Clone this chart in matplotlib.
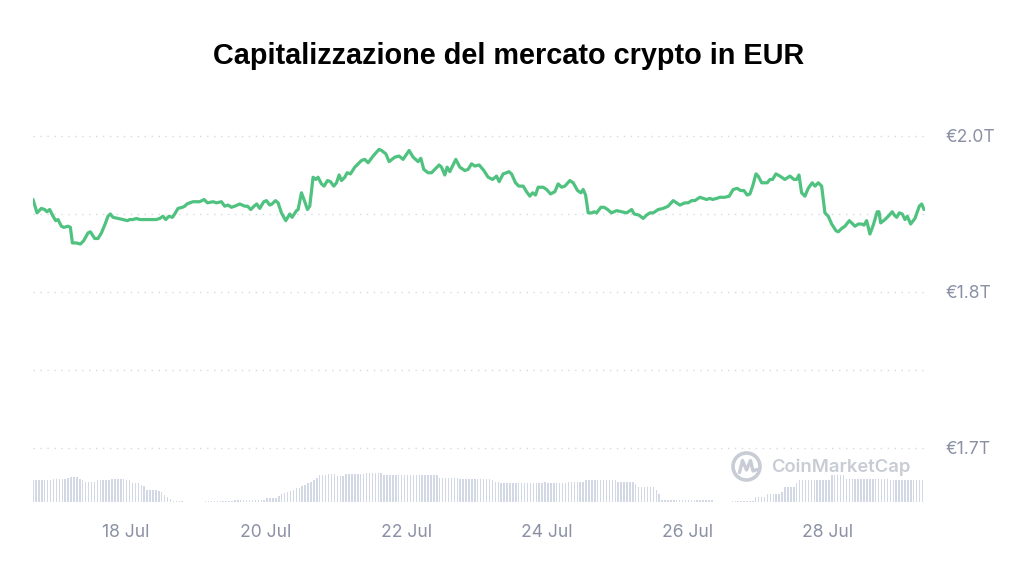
import matplotlib
matplotlib.use('Agg')
import matplotlib.pyplot as plt
from matplotlib.patches import Circle
import numpy as np

# market cap, day of July (fractional) and value in trillions EUR
price_day = [
    16.687, 16.744, 16.806, 16.853, 16.886, 16.925, 16.972, 17.010, 17.043, 17.091,
    17.128, 17.185, 17.219, 17.248, 17.305, 17.362, 17.409, 17.470, 17.504, 17.566,
    17.613, 17.661, 17.708, 17.755, 17.789, 17.826, 17.897, 17.969, 18.031, 18.064,
    18.111, 18.160, 18.207, 18.302, 18.373, 18.444, 18.491, 18.538, 18.577, 18.624,
    18.672, 18.705, 18.752, 18.815, 18.848, 18.880, 18.919, 18.966, 19.061, 19.123,
    19.171, 19.251, 19.299, 19.370, 19.417, 19.464, 19.513, 19.560, 19.631, 19.702,
    19.741, 19.788, 19.835, 19.873, 19.916, 19.973, 20.011, 20.058, 20.091, 20.140,
    20.177, 20.225, 20.286, 20.343, 20.376, 20.439, 20.462, 20.510, 20.557, 20.595,
    20.628, 20.675, 20.714, 20.746, 20.795, 20.832, 20.880, 20.923, 20.970, 21.009,
    21.046, 21.080, 21.127, 21.160, 21.208, 21.269, 21.365, 21.412, 21.459, 21.530,
    21.615, 21.650, 21.711, 21.758, 21.839, 21.900, 21.957, 22.043, 22.100, 22.171,
    22.209, 22.252, 22.313, 22.362, 22.409, 22.470, 22.504, 22.551, 22.584, 22.622,
    22.708, 22.765, 22.836, 22.883, 22.932, 22.979, 23.040, 23.107, 23.168, 23.231,
    23.288, 23.325, 23.382, 23.430, 23.463, 23.501, 23.558, 23.605, 23.667, 23.715,
    23.762, 23.801, 23.843, 23.880, 23.952, 24.000, 24.057, 24.118, 24.165, 24.214,
    24.261, 24.332, 24.379, 24.442, 24.489, 24.521, 24.556, 24.593, 24.650, 24.678,
    24.712, 24.774, 24.821, 24.869, 24.926, 24.997, 25.068, 25.140, 25.211, 25.248,
    25.315, 25.376, 25.424, 25.472, 25.519, 25.590, 25.661, 25.732, 25.803, 25.852,
    25.899, 25.970, 26.017, 26.066, 26.112, 26.184, 26.231, 26.279, 26.326, 26.365,
    26.422, 26.469, 26.540, 26.601, 26.658, 26.715, 26.764, 26.811, 26.857, 26.896,
    26.935, 26.982, 27.014, 27.063, 27.110, 27.142, 27.181, 27.219, 27.266, 27.323,
    27.394, 27.466, 27.523, 27.561, 27.594, 27.632, 27.679, 27.726, 27.783, 27.822,
    27.869, 27.917, 27.964, 28.011, 28.060, 28.121, 28.154, 28.202, 28.249, 28.311,
    28.345, 28.392, 28.439, 28.487, 28.520, 28.558, 28.605, 28.652, 28.709, 28.733,
    28.758, 28.819, 28.866, 28.923, 28.951, 28.986, 29.023, 29.065, 29.104, 29.137,
    29.185, 29.246, 29.308, 29.342, 29.375,
]
price_cap = [
    1.923, 1.911, 1.915, 1.914, 1.912, 1.914, 1.908, 1.904, 1.905, 1.899,
    1.898, 1.899, 1.898, 1.884, 1.884, 1.883, 1.886, 1.893, 1.894, 1.888,
    1.888, 1.893, 1.900, 1.908, 1.910, 1.907, 1.906, 1.905, 1.904, 1.905,
    1.905, 1.906, 1.905, 1.905, 1.905, 1.905, 1.906, 1.908, 1.905, 1.908,
    1.907, 1.910, 1.915, 1.916, 1.917, 1.919, 1.920, 1.921, 1.921, 1.923,
    1.920, 1.921, 1.920, 1.921, 1.917, 1.918, 1.916, 1.917, 1.919, 1.917,
    1.917, 1.914, 1.917, 1.919, 1.915, 1.921, 1.922, 1.918, 1.919, 1.922,
    1.920, 1.911, 1.904, 1.910, 1.907, 1.913, 1.914, 1.929, 1.921, 1.914,
    1.917, 1.943, 1.941, 1.943, 1.937, 1.935, 1.940, 1.939, 1.935, 1.938,
    1.945, 1.940, 1.943, 1.947, 1.946, 1.952, 1.958, 1.959, 1.956, 1.962,
    1.968, 1.967, 1.964, 1.957, 1.961, 1.962, 1.959, 1.967, 1.961, 1.957,
    1.960, 1.950, 1.947, 1.947, 1.950, 1.954, 1.952, 1.945, 1.952, 1.948,
    1.959, 1.952, 1.949, 1.950, 1.955, 1.953, 1.954, 1.949, 1.943, 1.941,
    1.944, 1.939, 1.946, 1.947, 1.948, 1.946, 1.938, 1.935, 1.935, 1.930,
    1.926, 1.929, 1.927, 1.934, 1.934, 1.932, 1.928, 1.930, 1.937, 1.934,
    1.935, 1.940, 1.938, 1.931, 1.929, 1.932, 1.927, 1.911, 1.911, 1.912,
    1.911, 1.916, 1.916, 1.914, 1.911, 1.913, 1.912, 1.911, 1.914, 1.910,
    1.909, 1.906, 1.909, 1.911, 1.911, 1.914, 1.915, 1.917, 1.922, 1.920,
    1.918, 1.920, 1.920, 1.922, 1.922, 1.925, 1.924, 1.923, 1.924, 1.923,
    1.924, 1.925, 1.925, 1.926, 1.932, 1.933, 1.931, 1.931, 1.927, 1.928,
    1.935, 1.946, 1.944, 1.938, 1.938, 1.938, 1.941, 1.941, 1.946, 1.944,
    1.941, 1.944, 1.941, 1.941, 1.945, 1.929, 1.926, 1.933, 1.938, 1.935,
    1.938, 1.935, 1.911, 1.908, 1.901, 1.895, 1.894, 1.897, 1.899, 1.904,
    1.902, 1.899, 1.901, 1.901, 1.900, 1.904, 1.892, 1.900, 1.912, 1.912,
    1.902, 1.905, 1.908, 1.912, 1.909, 1.907, 1.911, 1.910, 1.905, 1.908,
    1.901, 1.906, 1.917, 1.919, 1.914,
]

# hourly volume (billions EUR), first bar at 16 Jul ~16:30
vol_start = 16.687
vol_values = [
    66, 66, 66, 66, 66, 66, 66, 69, 69, 69, 69, 69, 72, 75, 75, 75, 69, 66, 60, 60, 60, 60, 66, 66,
    66, 66, 66, 69, 69, 69, 69, 69, 65, 65, 57, 57, 57, 51, 48, 36, 36, 36, 36, 33, 30, 21, 15, 9,
    4, 4, 4, 4, 0, 0, 0, 0, 0, 0, 0, 2, 2, 2, 2, 2, 2, 2, 2, 2, 2, 7, 7, 7,
    7, 7, 5, 5, 5, 5, 5, 5, 13, 13, 13, 13, 18, 23, 27, 30, 33, 37, 41, 43, 47, 50, 56, 60,
    65, 72, 80, 80, 80, 85, 85, 85, 78, 78, 78, 83, 83, 83, 83, 83, 83, 83, 86, 87, 87, 87, 87, 87,
    82, 82, 82, 82, 82, 80, 80, 80, 80, 80, 80, 80, 80, 80, 80, 80, 80, 80, 80, 73, 73, 73, 73, 73,
    73, 73, 69, 69, 69, 69, 69, 69, 69, 69, 69, 69, 69, 66, 60, 60, 57, 57, 57, 57, 57, 57, 57, 58,
    58, 58, 58, 58, 58, 58, 58, 60, 57, 57, 57, 57, 57, 57, 57, 60, 60, 60, 60, 60, 60, 65, 65, 65,
    65, 65, 65, 65, 65, 65, 65, 65, 60, 60, 60, 60, 60, 60, 54, 45, 45, 45, 45, 45, 45, 36, 24, 6,
    6, 6, 6, 6, 6, 6, 6, 6, 6, 6, 6, 6, 6, 6, 6, 6, 6, 0, 0, 0, 0, 0, 0, 2,
    2, 2, 2, 2, 2, 2, 2, 15, 15, 15, 15, 24, 24, 24, 24, 24, 30, 45, 45, 45, 45, 57, 67, 67,
    67, 67, 67, 67, 67, 67, 67, 67, 67, 80, 80, 80, 80, 80, 70, 70, 70, 70, 70, 70, 70, 70, 70, 70,
    70, 70, 70, 70, 70, 65, 65, 65, 65, 65, 65, 65, 65, 65, 65, 65, 65,
]

grid_levels = [1.70, 1.77, 1.84, 1.91, 1.98]
grid_labels = ['€1.7T', '', '€1.8T', '', '€2.0T']
date_ticks = [18, 20, 22, 24, 26, 28]
date_labels = [f'{d} Jul' for d in date_ticks]

line_color = '#4fc280'
label_color = '#8a91a5'
x_range = (16.687, 29.389)

fig = plt.figure(figsize=(10.24, 5.68), dpi=100)
fig.patch.set_facecolor('white')

# main price axes
ax = fig.add_axes([33 / 1024, 66 / 568, 892 / 1024, 402 / 568])
ax.set_xlim(*x_range)
ax.set_ylim(1.6515, 2.0123)
for lev in grid_levels:
    ax.axhline(lev, color='#d6d9e0', lw=1.0, ls=(0, (1, 4)), zorder=1)
ax.plot(price_day, price_cap, color=line_color, lw=2.3,
        solid_joinstyle='round', solid_capstyle='round', zorder=3)

for s in ax.spines.values():
    s.set_visible(False)
ax.yaxis.tick_right()
ax.set_yticks(grid_levels, grid_labels)
ax.set_xticks(date_ticks, date_labels)
ax.tick_params(axis='y', length=0, pad=14.5, labelsize=12.6, labelcolor=label_color)
ax.tick_params(axis='x', length=0, pad=15.5, labelsize=12.6, labelcolor=label_color)
for lab in ax.get_xticklabels() + ax.get_yticklabels():
    lab.set_fontfamily('Inter')

# volume bars along the bottom
vol_day = vol_start + np.arange(len(vol_values)) / 24
vax = fig.add_axes([33 / 1024, 66 / 568, 892 / 1024, 40 / 568])
vax.set_xlim(*x_range)
vax.set_ylim(0, 120)
vax.bar(vol_day, vol_values, width=0.5 / 24, color='#d3d9e4', linewidth=0)
vax.axis('off')
vax.patch.set_alpha(0)

# title
fig.text(0.497, 1 - 56 / 568, 'Capitalizzazione del mercato crypto in EUR',
         ha='center', va='center', fontsize=20.8, fontweight='bold',
         family='Liberation Sans', color='black')

# watermark
wax = fig.add_axes([0, 0, 1, 1])
wax.set_xlim(0, 1024)
wax.set_ylim(568, 0)
wax.axis('off')
wax.patch.set_alpha(0)
wm_color = '#c8ccd4'
wax.add_patch(Circle((746.5, 466.5), 13.5, fill=False, ec=wm_color, lw=2.6))
wax.plot([739.5, 742.5, 746.5, 750.5, 753, 757],
         [472.5, 460.5, 470, 460.5, 471, 469.5],
         color=wm_color, lw=2.4, solid_joinstyle='round', solid_capstyle='round')
wax.text(771, 467, 'CoinMarketCap', ha='left', va='center', fontsize=13.3,
         fontweight='semibold', family='Inter', color=wm_color)

fig.savefig('out.png', dpi=100, facecolor='white')
